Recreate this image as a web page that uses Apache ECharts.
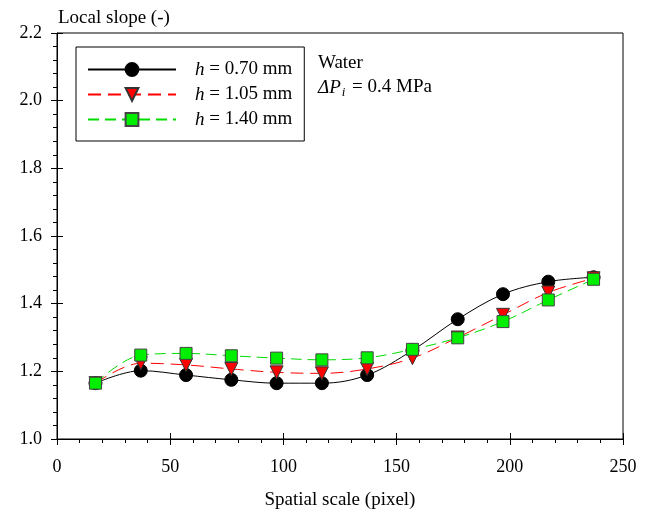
<!DOCTYPE html>
<html><head><meta charset="utf-8">
<script src="https://cdn.jsdelivr.net/npm/echarts@6/dist/echarts.min.js"></script>
<style>html,body{margin:0;padding:0;background:#fff}#c{width:653px;height:516px}</style>
</head><body><div id="c"></div>
<script>
const xValues = [17, 37, 57, 77, 97, 117, 137, 157, 177, 197, 217, 237];
const h070 = [1.165, 1.202, 1.189, 1.175, 1.165, 1.165, 1.189, 1.262, 1.354, 1.428, 1.465, 1.478];
const h105 = [1.165, 1.224, 1.219, 1.207, 1.197, 1.194, 1.207, 1.239, 1.300, 1.367, 1.433, 1.475];
const h140 = [1.165, 1.248, 1.253, 1.246, 1.239, 1.234, 1.240, 1.265, 1.299, 1.347, 1.411, 1.472];
const seriesNames = ['0.70 mm', '1.05 mm', '1.40 mm'];
const yTicks = [1.0, 1.2, 1.4, 1.6, 1.8, 2.0, 2.2];
const xTicks = [0, 50, 100, 150, 200, 250];

const FONT = '"Liberation Serif", "Times New Roman", serif';
const pairs = arr => xValues.map((x, i) => [x, arr[i]]);

const chart = echarts.init(document.getElementById('c'), null, {renderer: 'canvas'});
const axisCommon = {
  axisLine: {show: true, onZero: false, lineStyle: {color: '#000', width: 1}},
  splitLine: {show: false}
};
chart.setOption({
  animation: false,
  backgroundColor: '#fff',
  grid: {left: 57, right: 30, top: 33, bottom: 77, show: true, borderColor: '#000', borderWidth: 1, backgroundColor: 'transparent'},
  title: {text: 'Local slope (-)', left: 53, top: 4, textStyle: {fontFamily: FONT, fontSize: 19, fontWeight: 'normal', color: '#000'}},
  legend: {
    orient: 'vertical', left: 76, top: 47,
    padding: [13, 12, 12, 11], itemGap: 6,
    itemWidth: 88, itemHeight: 16,
    borderColor: '#000', borderWidth: 1,
    selectedMode: false,
    formatter: n => '{i|h} = ' + n,
    textStyle: {fontFamily: FONT, fontSize: 19, color: '#000', padding: [0, 0, 0, 14],
      rich: {i: {fontFamily: FONT, fontSize: 19, fontStyle: 'italic', color: '#000'}}}
  },
  xAxis: [{
    ...axisCommon, type: 'value', min: 0, max: 250, interval: 50,
    name: 'Spatial scale (pixel)', nameLocation: 'middle', nameGap: 52,
    nameTextStyle: {fontFamily: FONT, fontSize: 19, color: '#000'},
    axisTick: {show: true, inside: false, length: 6, lineStyle: {color: '#000'}},
    minorTick: {show: true, splitNumber: 5, length: 4, lineStyle: {color: '#000'}},
    axisLabel: {fontFamily: FONT, fontSize: 18, color: '#000', margin: 19,
      formatter: v => xTicks.includes(v) ? String(v) : ''}
  }, {
    type: 'value', min: 0, max: 250, interval: 50, position: 'bottom',
    axisLine: {show: false}, splitLine: {show: false}, axisLabel: {show: false},
    axisTick: {show: true, inside: true, length: 6, lineStyle: {color: '#000'}}
  }],
  yAxis: [{
    ...axisCommon, type: 'value', min: 1.0, max: 2.2, interval: 0.2,
    axisTick: {show: true, inside: false, length: 6, lineStyle: {color: '#000'}},
    minorTick: {show: true, splitNumber: 5, length: 4, lineStyle: {color: '#000'}},
    axisLabel: {fontFamily: FONT, fontSize: 18, color: '#000', margin: 15,
      formatter: v => yTicks.some(t => Math.abs(t - v) < 1e-6) ? v.toFixed(1) : ''}
  }, {
    type: 'value', min: 1.0, max: 2.2, interval: 0.2, position: 'left',
    axisLine: {show: false}, splitLine: {show: false}, axisLabel: {show: false},
    axisTick: {show: true, inside: true, length: 6, lineStyle: {color: '#000'}}
  }],
  graphic: [{
    type: 'text', left: 318, top: 54,
    style: {text: 'Water', font: '19px ' + FONT, fill: '#000'}
  }, {
    type: 'text', left: 318, top: 78,
    style: {
      text: '{a|ΔP}{s|i}{b| = 0.4 MPa}',
      rich: {
        a: {fontFamily: FONT, fontSize: 19, fill: '#000', fontStyle: 'italic'},
        b: {fontFamily: FONT, fontSize: 19, fill: '#000', fontStyle: 'normal'},
        s: {fontFamily: FONT, fontSize: 13, fontStyle: 'italic', fill: '#000', verticalAlign: 'bottom', padding: [10, 2, 0, 1]}
      },
      fill: '#000'
    }
  }],
  series: [{
    name: seriesNames[0], type: 'line', data: pairs(h070), smooth: 0.35,
    symbol: 'circle', symbolSize: 13,
    lineStyle: {color: '#000', width: 1, type: 'solid'},
    itemStyle: {color: '#000', borderColor: '#000', borderWidth: 1}, z: 2
  }, {
    name: seriesNames[1], type: 'line', data: pairs(h105), smooth: 0.35,
    symbol: 'triangle', symbolRotate: 180, symbolSize: 13,
    lineStyle: {color: '#ff0000', width: 1, type: [13, 7]},
    itemStyle: {color: '#ff0000', borderColor: '#333', borderWidth: 1}, z: 3
  }, {
    name: seriesNames[2], type: 'line', data: pairs(h140), smooth: 0.35,
    symbol: 'rect', symbolSize: 12,
    lineStyle: {color: '#00dd00', width: 1, type: [11, 6]},
    itemStyle: {color: '#00ee00', borderColor: '#444', borderWidth: 1}, z: 4
  }]
});
</script></body></html>
